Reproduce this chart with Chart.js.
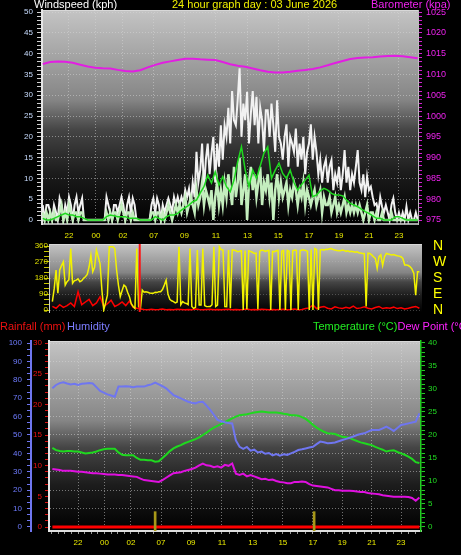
<!DOCTYPE html>
<html>
<head>
<meta charset="utf-8">
<script src="https://cdn.jsdelivr.net/npm/chart.js@4/dist/chart.umd.min.js"></script>
<style>
html, body { margin: 0; padding: 0; background: #000; }
#wrap { position: relative; width: 461px; height: 555px; overflow: hidden; background: #000; font-family: "Liberation Sans", Arial, sans-serif; }
canvas { position: absolute; left: 0; }
.t { position: absolute; font-size: 11px; line-height: 11px; white-space: nowrap; z-index: 2; }
</style>
</head>
<body>
<div id="wrap">
	<canvas id="topChart" width="461" height="244" style="top:0"></canvas>
	<canvas id="dirChart" width="461" height="84" style="top:236px"></canvas>
	<canvas id="climateChart" width="461" height="219" style="top:336px"></canvas>
	<span class="t" style="left:34px;top:-1px;color:#fff">Windspeed (kph)</span>
	<span class="t" style="left:172px;top:-1px;color:#f0f000">24 hour graph day : 03 June 2026</span>
	<span class="t" style="left:371px;top:-1px;color:#ee22ee">Barometer (kpa)</span>
	<span class="t" style="left:0;top:321px;color:#ee1111">Rainfall (mm)</span>
	<span class="t" style="left:67px;top:321px;color:#7d7dff">Humidity</span>
	<span class="t" style="left:313px;top:321px;color:#22ee22">Temperature (°C)<span style="color:#ff22ff">Dew Point (°C)</span></span>
</div>
<script>
// time axis: graph hours (the log has a gap, so labels are not evenly spaced)
const timeLabels = ['22', '00', '02', '07', '09', '11', '13', '15', '17', '19', '21', '23'];
const timeSlots = [2.0, 3.8, 5.6, 7.65, 9.7, 11.8, 13.9, 15.95, 18.0, 20.0, 22.0, 24.0];
const seriesStart = 0.25;

// wind (kph), one sample every 1/8 graph hour
const windGust = [
	3.6, 0, 3.6, 3.6, 1.8, 0, 3.6, 2,
	0, 5.2, 3.6, 0, 3.6, 1.8, 5.5, 3.6,
	0, 3.6, 5.5, 1.8, 3.6, 5.2, 0, 0,
	0, 0, 0, 0, 0, 0, 0, 0,
	0, 0, 5.5, 3.6, 1.8, 0, 3.6, 3.6,
	1.8, 3.6, 5.5, 3.6, 0, 3.6, 5.5, 1.8,
	5.2, 3.6, 0, 0, 0, 0, 0, 0,
	0, 0, 3.6, 5.2, 1.8, 5.2, 3.6, 0,
	3.6, 1.8, 3.6, 5.2, 3.6, 2, 5.5, 3.6,
	5.5, 3.6, 5.5, 4, 7.2, 5.5, 7.5, 3.6,
	9, 5.5, 16.4, 9, 12, 18.4, 7.2, 14.5,
	18.4, 11, 16, 20, 9, 18.4, 12.8, 22.8,
	14.5, 22.8, 20, 27, 18.4, 31, 24, 22.8,
	29, 36.5, 20, 28, 24, 30.8, 18.4, 25.6,
	31, 22.8, 29.6, 18.4, 27, 24, 16.4, 26.4,
	26.4, 20, 28, 22.8, 16.4, 28.8, 20, 18.4,
	14.5, 20, 23, 12.8, 20, 18.4, 16.4, 22,
	12.8, 18.4, 14.5, 20, 11, 16.4, 18.4, 23,
	14.5, 20, 16.4, 11, 14.5, 9, 12.8, 14.5,
	9, 12.8, 14.4, 7.2, 11, 9, 12.8, 7.2,
	11, 16.8, 9, 12.8, 7.2, 11, 9, 12.8,
	16.8, 9, 7.2, 11, 5.5, 10.4, 7.2, 8,
	5.5, 3.6, 4, 1.8, 5.5, 3.2, 1.8, 3.6,
	1.8, 0, 3.6, 5.2, 1.8, 0, 1.8, 0,
	1.8, 0, 3.2, 0, 1.8, 0, 0, 1.8,
	0
];
const windSpeed = [
	1.8, 0, 1.8, 0, 1.8, 0, 1.8, 0,
	0, 1.8, 3.6, 0, 1.8, 0, 3.6, 1.8,
	0, 1.8, 1.8, 0, 1.8, 1.8, 0, 0,
	0, 0, 0, 0, 0, 0, 0, 0,
	0, 0, 1.8, 0, 1.8, 0, 1.8, 1.8,
	0, 1.8, 3.6, 1.8, 0, 1.8, 1.8, 0,
	1.8, 0, 0, 0, 0, 0, 0, 0,
	0, 0, 1.8, 1.8, 0, 1.8, 1.8, 0,
	1.8, 0, 1.8, 3.6, 1.8, 0, 1.8, 3.6,
	1.8, 3.6, 1.8, 3.6, 5.5, 1.8, 3.6, 5.5,
	3.6, 1.8, 7.2, 3.6, 5.5, 9, 3.6, 7.2,
	5.5, 3.6, 7.2, 0, 5.5, 9, 3.6, 7.2,
	3.6, 9, 5.5, 11, 7.2, 3.6, 12.8, 5.5,
	9, 15, 3.6, 7.2, 11, 0, 9, 12.8,
	7.2, 11, 5.5, 9, 12.8, 3.6, 9, 7.2,
	11, 5.5, 9, 0, 7.2, 11, 5.5, 9,
	5.5, 7.2, 9, 3.6, 7.2, 5.5, 9, 7.2,
	3.6, 7.2, 5.5, 9, 3.6, 7.2, 5.5, 3.6,
	5.5, 7.2, 3.6, 5.5, 7.2, 1.8, 5.5, 3.6,
	3.6, 5.5, 1.8, 3.6, 5.5, 1.8, 3.6, 1.8,
	3.6, 5.5, 1.8, 3.6, 1.8, 3.6, 1.8, 3.6,
	1.8, 3.6, 1.8, 0, 1.8, 3.6, 0, 1.8,
	1.8, 0, 1.8, 0, 0, 1.8, 0, 0,
	0, 0, 1.8, 0, 0, 0, 0, 0,
	0, 0, 0, 0, 0, 0, 0, 0,
	0
];
// every 1/4 graph hour
const windAvg = [
	0.4, 0, 0, 0.4,  0.8, 1.2, 1.6, 1.2,  1.2, 0.8, 0.8, 0.4,  0, 0, 0, 0,
	0, 0.8, 1.2, 1.0,  0.8, 0.8, 0.8, 0.4,  0.4, 0.4, 0, 0,  0, 0, 0.8, 0.4,
	0, 0.8, 1.2, 1.2,  1.6, 2.4, 3.0, 3.6,  4.4, 4.8, 6.5, 8,  10.8, 8.9, 11.6, 8.4,
	10.4, 8, 6.8, 9.6,  14, 17.6, 12, 8,  12, 10, 13, 16.1,  17.6, 10, 12, 13.7,
	11.2, 10, 12, 9,  7.2, 8.5, 9.6, 10.8,  5.6, 6, 7, 7.6,  7.2, 6.4, 6, 6,
	5.8, 4.8, 4.0, 3.6,  3.2, 2.6, 2.0, 1.6,  1.0, 0.4, 0.4, 0,  0, 0, 0.8, 0.8,
	0.4, 0, 0, 0,  0
];
// barometer, every 1/2 graph hour
const barometer = [
	1012.5, 1013.0, 1013.1, 1013.05, 1012.8, 1012.35, 1011.9, 1011.6, 1011.5, 1011.45,
	1011.1, 1010.85, 1010.7, 1011.0, 1011.7, 1012.3, 1012.8, 1013.15, 1013.5, 1013.8,
	1013.8, 1013.65, 1013.55, 1013.45, 1013.0, 1012.45, 1012.1, 1011.85, 1011.45, 1011.0,
	1010.65, 1010.45, 1010.45, 1010.65, 1010.9, 1011.05, 1011.3, 1011.7, 1012.2, 1012.75,
	1013.25, 1013.7, 1013.95, 1014.05, 1014.15, 1014.3, 1014.45, 1014.5, 1014.4, 1014.15,
	1013.9
];

// wind direction (degrees), every 1/8 graph hour
const windDir = [
	47, 120, 225, 94, 225, 250, 271, 140,
	159, 170, 346, 150, 165, 168, 175, 159,
	165, 178, 187, 200, 243, 309, 215, 240,
	337, 300, 260, 112, 0, 40, 84, 356,
	356, 356, 346, 225, 140, 75, 110, 140,
	131, 100, 75, 35, 20, 9, 346, 19,
	10, 112, 100, 103, 100, 96, 94, 94,
	100, 98, 103, 103, 115, 140, 168, 90,
	60, 52, 47, 40, 45, 356, 30, 47,
	40, 37, 30, 346, 20, 9, 15, 337,
	28, 28, 346, 25, 20, 19, 19, 30,
	356, 20, 28, 356, 340, 337, 20, 19,
	337, 10, 337, 337, 333, 328, 330, 333,
	0, 335, 5, 333, 330, 325, 318, 320,
	5, 330, 337, 335, 330, 333, 335, 0,
	330, 328, 333, 335, 0, 330, 335, 0,
	335, 330, 0, 333, 337, 335, 0, 333,
	337, 337, 335, 330, 0, 340, 0, 346,
	340, 0, 337, 340, 337, 342, 340, 344,
	346, 340, 337, 335, 333, 333, 337, 335,
	330, 333, 328, 330, 328, 325, 328, 322,
	320, 318, 318, 20, 320, 318, 310, 300,
	290, 234, 300, 310, 250, 300, 318, 315,
	312, 310, 312, 308, 305, 303, 300, 290,
	253, 253, 250, 243, 230, 206, 84, 215,
	215
];
// red trace in the direction panel, every 1/4 graph hour
const dirRed = [
	20, 10, 30, 15, 25, 40, 20, 103, 30, 45, 60, 25, 40, 75, 20, 35, 55, 20, 30, 45, 25, 50, 15, 10,
	5,
	3, 2, 4, 2, 3, 5, 2, 3, 2, 4, 3, 2, 3, 2, 5, 3, 2, 3, 4, 2, 3, 2, 3, 4, 2, 3, 2, 3, 5, 2, 3, 2, 4, 3, 2, 3, 2, 3, 4, 2, 3, 5, 2, 3, 8,
	12, 28, 8, 15, 20, 10, 6, 18, 12, 8, 15, 10, 22, 8, 12, 18, 10, 6, 14, 20, 8, 12, 10, 16, 8, 12, 6, 10, 15, 20, 10
];
const dayMarkHour = 6.2;

// humidity (%), temperature and dew point (°C), every 1/4 graph hour
const humidity = [
	75.4, 77.2, 78.2, 78.6,  78, 77.5, 77.8, 77.2,  77.8, 78, 78.2, 78,  76, 73.9, 73, 72.1,
	71.5, 70.8, 76.3, 76.3,  76.5, 76.3, 76, 76.3,  76.3, 76.3, 77, 77.5,  78.5, 77.5, 76.5, 75.4,
	73.5, 71.7, 70.8, 69.9,  69, 68.1, 67.5, 67.2,  68, 68.1, 66, 63.6,  61, 58.2, 57.5, 56.9,
	56.5, 56.3, 47, 43.6,  42.5, 43.5, 41.5, 42,  40.5, 41, 39.8, 40.2,  38.9, 39.6, 38.8, 39.5,
	39.2, 40, 40.8, 41.8,  42.2, 42.7, 43.2, 43.6,  45, 46.4, 46, 45.5,  45.7, 45.9, 46.6, 47.3,
	47.9, 48.5, 49.2, 50,  50.5, 50.9, 51.8, 52.7,  52.7, 52.7, 53.6, 54.5,  53.4, 52.2, 53.8, 55.4,
	55.8, 56.3, 56.8, 57.2,  61.8
];
const temperature = [
	17.2, 16.7, 16.5, 16.4,  16.5, 16.5, 16.4, 16.4,  16.2, 16.0, 16.1, 16.2,  16.4, 16.7, 16.9, 17.0,
	17.0, 17.0, 16.2, 15.7,  15.6, 15.6, 15.6, 15.0,  14.6, 14.6, 14.5, 14.5,  14.2, 14.3, 15.0, 15.7,
	16.5, 17.1, 17.5, 17.8,  18.2, 18.5, 18.8, 19.1,  19.5, 20.0, 20.5, 21.1,  21.6, 22.0, 22.4, 22.8,
	23.2, 23.6, 24.0, 24.3,  24.4, 24.5, 24.7, 24.9,  25.0, 25.1, 25.0, 24.9,  24.9, 24.9, 24.8, 24.6,
	24.5, 24.3, 24.3, 24.2,  23.9, 23.5, 22.9, 22.2,  21.6, 21.1, 20.7, 20.4,  20.3, 20.2, 19.9, 19.6,
	19.5, 19.4, 19.0, 18.7,  18.4, 18.2, 18.0, 17.8,  17.4, 17.1, 16.8, 16.4,  16.6, 16.7, 16.3, 16.0,
	15.7, 15.3, 14.8, 14.1,  13.9
];
const dewPoint = [
	12.6, 12.5, 12.4, 12.2,  12.2, 12.2, 12.1, 12.0,  12.0, 11.9, 11.8, 11.7,  11.7, 11.6, 11.5, 11.4,
	11.4, 11.4, 11.3, 11.3,  11.2, 11.1, 11.0, 10.9,  10.5, 10.2, 10.1, 10.0,  9.9, 9.8, 10.2, 10.7,
	11.2, 11.7, 11.8, 11.9,  12.2, 12.4, 12.6, 12.9,  13.4, 13.8, 13.4, 13.3,  13.0, 13.2, 12.9, 13.5,
	13.3, 13.8, 11.6, 11.3,  11.6, 11.0, 11.3, 11.0,  10.7, 10.4, 10.5, 10.2,  10.3, 10.0, 9.8, 9.7,
	9.5, 9.5, 9.8, 9.8,  9.9, 9.8, 9.3, 9.0,  8.9, 8.8, 8.7, 8.6,  8.3, 8.0, 8.0, 7.9,
	7.9, 7.9, 7.8, 7.7,  7.6, 7.6, 7.4, 7.3,  7.2, 7.1, 6.9, 6.8,  6.7, 6.6, 6.6, 6.6,
	6.6, 6.5, 6.3, 5.7,  6.4
];
// rainfall (mm), hourly
const rainfall = [0, 0, 0, 0, 0, 0, 0, 0, 0, 0, 0, 0, 0, 0, 0, 0, 0, 0, 0, 0, 0, 0, 0, 0, 0, 0];
const rainMarkHours = [7.25, 18.08];
const rainMarkValues = [2.5, 2.5];

// axis tick labels
const windTicks = [0, 5, 10, 15, 20, 25, 30, 35, 40, 45, 50];
const baroTicks = [975, 980, 985, 990, 995, 1000, 1005, 1010, 1015, 1020, 1025];
const dirTicks = [0, 90, 180, 270, 360];
const dirLetters = ['N', 'E', 'S', 'W', 'N'];
const humTicks = [0, 10, 20, 30, 40, 50, 60, 70, 80, 90, 100];
const rainTicks = [0, 5, 10, 15, 20, 25, 30];
const tempTicks = [0, 5, 10, 15, 20, 25, 30, 35, 40];

Chart.defaults.font.family = '"Liberation Sans", Arial, sans-serif';
Chart.defaults.font.size = 8;

const GRID = 'rgba(215,215,215,0.5)';

function range(a, b, step) {
	const out = [];
	const n = Math.round((b - a) / step);
	for (let k = 0; k <= n; k++) out.push(+(a + k * step).toFixed(3));
	return out;
}
const near = (v, list) => list.some(t => Math.abs(t - v) < 1e-3);
const series = (start, step, values) => values.map((y, i) => ({ x: start + i * step, y }));
const setTicks = list => s => { s.ticks = list.map(value => ({ value })); };
const slotLabel = v => {
	const i = timeSlots.findIndex(t => Math.abs(t - v) < 1e-6);
	return i < 0 ? '' : timeLabels[i];
};
function minorTimeTicks(min, max) {
	const out = [];
	for (let i = 0; i < timeSlots.length - 1; i++) {
		const a = timeSlots[i], b = timeSlots[i + 1];
		for (let k = 0; k < 4; k++) out.push(a + (b - a) * k / 4);
	}
	out.push(timeSlots[timeSlots.length - 1]);
	for (let v = timeSlots[0] - 0.45; v > min; v -= 0.45) out.unshift(v);
	for (let v = timeSlots[timeSlots.length - 1] + 0.5; v < max; v += 0.5) out.push(v);
	return out;
}

function valueAxis(o) {
	return {
		position: o.position, weight: o.weight || 0, min: o.min, max: o.max,
		afterBuildTicks: setTicks(o.ticks),
		// fixed width, and no extra room for the end labels: the plot boxes must line up
		afterFit: s => { s.width = o.width; s.paddingTop = 0; s.paddingBottom = 0; },
		ticks: {
			autoSkip: false, color: o.color, padding: o.padding, font: { size: o.size || 8 },
			callback: o.callback || (v => near(v, o.labels) ? String(Math.round(v)) : '')
		},
		grid: {
			drawOnChartArea: !!o.grid,
			color: c => (c.tick && near(c.tick.value, o.labels)) ? o.grid : 'transparent',
			drawTicks: o.tickLength > 0, tickLength: o.tickLength || 0,
			tickColor: o.tickColor || 'transparent', lineWidth: 1
		},
		border: { display: !!o.border, color: o.border, width: o.borderWidth || 1, dash: [1, 2] }
	};
}

const plotShade = {
	id: 'plotShade',
	beforeDraw(chart) {
		const a = chart.chartArea, ctx = chart.ctx;
		const g = ctx.createLinearGradient(0, a.top, 0, a.bottom);
		g.addColorStop(0, '#c4c4c4');
		g.addColorStop(0.42, '#858585');
		g.addColorStop(0.56, '#454545');
		g.addColorStop(0.76, '#1c1c1c');
		g.addColorStop(1, '#000');
		ctx.save();
		ctx.fillStyle = g;
		ctx.fillRect(a.left, a.top, a.right - a.left, a.bottom - a.top);
		ctx.fillStyle = '#d8d8d8';
		ctx.fillRect(a.left, a.top, a.right - a.left, 1);
		ctx.restore();
	}
};

const base = (padTop, padBottom) => ({
	responsive: false, animation: false, devicePixelRatio: 1,
	elements: { point: { radius: 0, hitRadius: 0 }, line: { tension: 0 } },
	layout: { padding: { top: padTop, bottom: padBottom, left: 0, right: 0 }, autoPadding: false },
	plugins: { legend: { display: false }, tooltip: { enabled: false } }
});

// wind + barometer
new Chart(document.getElementById('topChart'), {
	type: 'line',
	data: {
		datasets: [
			{ data: series(seriesStart, 0.5, barometer), yAxisID: 'yb', borderColor: '#e21ee2', borderWidth: 2 },
			{ data: series(seriesStart, 0.25, windAvg), yAxisID: 'y', borderColor: '#1fd81f', borderWidth: 1.5 },
			{ data: series(seriesStart, 0.125, windSpeed), yAxisID: 'y', borderColor: '#c4eebe', borderWidth: 2.5 },
			{ data: series(seriesStart, 0.125, windGust), yAxisID: 'y', borderColor: '#f2f2f2', borderWidth: 2 }
		]
	},
	options: Object.assign(base(10, 0), {
		scales: {
			x: {
				type: 'linear', min: 0.2, max: 25.27, offset: false,
				afterBuildTicks: setTicks(timeSlots),
				afterFit: s => { s.height = 20; },
				ticks: { autoSkip: false, maxRotation: 0, color: '#eaea00', padding: 4, callback: slotLabel },
				grid: { offset: false, color: GRID, tickLength: 3, tickColor: 'transparent' },
				border: { color: '#a4a4a4', width: 2, dash: [1, 2] }
			},
			y: valueAxis({ position: 'left', min: -0.96, max: 50.5, ticks: range(0, 50, 1), labels: windTicks,
				width: 42, color: '#c8dcff', padding: 4, tickLength: 5, tickColor: '#d0d0d0', grid: GRID, border: '#e6e6e6', borderWidth: 2 }),
			yb: valueAxis({ position: 'right', min: 974.04, max: 1025.5, ticks: range(975, 1025, 1), labels: baroTicks,
				width: 43, color: '#ee22ee', padding: 4, tickLength: 4, tickColor: '#d020d0', border: '#bdbdbd', borderWidth: 1, size: 9 })
		}
	}),
	plugins: [plotShade]
});

// wind direction
new Chart(document.getElementById('dirChart'), {
	type: 'line',
	data: {
		datasets: [
			{ data: [{ x: dayMarkHour, y: -12 }, { x: dayMarkHour, y: 372 }], borderColor: '#ff1010', borderWidth: 2 },
			{ data: series(seriesStart, 0.125, windDir), borderColor: '#f2f200', borderWidth: 1.5 },
			{ data: series(seriesStart, 0.25, dirRed), borderColor: '#ff0000', borderWidth: 1.5 }
		]
	},
	options: Object.assign(base(8, 8), {
		scales: {
			x: { type: 'linear', min: 0.02, max: 25.43, display: false },
			y: valueAxis({ position: 'left', min: -11.25, max: 371.25, ticks: range(0, 360, 30), labels: dirTicks,
				width: 49, color: '#e0e000', padding: -4, tickLength: 5, tickColor: '#c8c800',
				grid: 'rgba(200,200,200,0.3)', border: '#d0d0d0', borderWidth: 1 }),
			yd: valueAxis({ position: 'right', min: -11.25, max: 371.25, ticks: dirTicks, labels: dirTicks,
				width: 39, color: '#ffff00', padding: 11, tickLength: 0, size: 14,
				callback: v => dirLetters[dirTicks.indexOf(v)] })
		}
	}),
	plugins: [plotShade]
});

// rain, humidity, temperature, dew point
new Chart(document.getElementById('climateChart'), {
	type: 'line',
	data: {
		datasets: [
			{ type: 'bar', data: rainMarkHours.map((h, i) => ({ x: h, y: [-0.6, rainMarkValues[i]] })), yAxisID: 'yr',
				backgroundColor: '#a89818', barThickness: 2 },
			{ data: series(seriesStart, 1, rainfall), yAxisID: 'yr', borderColor: '#ff0000', borderWidth: 3 },
			{ data: series(seriesStart, 0.25, humidity), yAxisID: 'yh', borderColor: '#6f76f0', borderWidth: 2 },
			{ data: series(seriesStart, 0.25, temperature), yAxisID: 'yt', borderColor: '#1fd81f', borderWidth: 2 },
			{ data: series(seriesStart, 0.25, dewPoint), yAxisID: 'yt', borderColor: '#e010e0', borderWidth: 2 }
		]
	},
	options: Object.assign(base(5, 0), {
		scales: {
			x: {
				type: 'linear', min: 0.02, max: 25.36, offset: false,
				afterBuildTicks: setTicks(minorTimeTicks(0.02, 25.36)),
				afterFit: s => { s.height = 24; },
				ticks: { autoSkip: false, maxRotation: 0, color: '#eaea00', padding: 4, callback: slotLabel },
				grid: { offset: false, color: c => (c.tick && near(c.tick.value, timeSlots)) ? GRID : 'transparent',
					tickLength: 3, tickColor: '#9a9a9a' },
				border: { color: '#dedede', width: 2, dash: [1, 2] }
			},
			yh: valueAxis({ position: 'left', weight: 1, min: -2.2, max: 101.1, ticks: range(0, 100, 10 / 3), labels: humTicks,
				width: 31, color: '#6f7cff', padding: 5, tickLength: 4, tickColor: '#6f76f0', grid: GRID, border: '#6f76f0', borderWidth: 2 }),
			yr: valueAxis({ position: 'left', weight: 0, min: -0.65, max: 30.33, ticks: range(0, 30, 1), labels: rainTicks,
				width: 18, color: '#ee1111', padding: 3, tickLength: 4, tickColor: '#dd1010', border: '#e8e8e8', borderWidth: 2 }),
			yt: valueAxis({ position: 'right', min: -0.87, max: 40.43, ticks: range(0, 40, 1), labels: tempTicks,
				width: 40, color: '#22dd22', padding: 3, tickLength: 4, tickColor: '#22cc22', border: '#22cc22', borderWidth: 1.5 })
		}
	}),
	plugins: [plotShade]
});
</script>
</body>
</html>
